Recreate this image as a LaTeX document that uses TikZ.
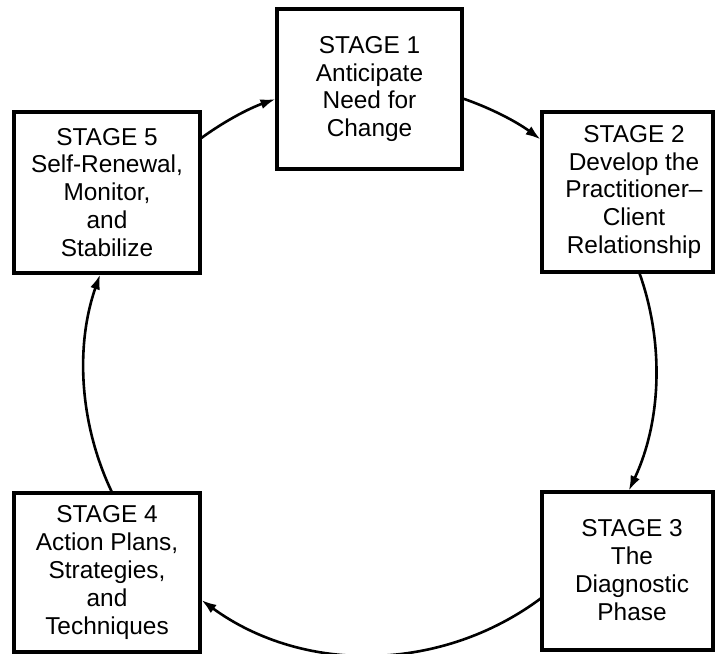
\documentclass[tikz,border=0pt]{standalone}
\usepackage{fontspec}
\setmainfont{Liberation Sans}
\usetikzlibrary{arrows.meta}
\tikzset{
  stagebox/.style={draw, line width=3.2bp, minimum width=#1, minimum height=160bp, inner sep=0pt,
    align=center, font=\fontsize{24.5}{28}\selectfont},
  stagebox/.default=186bp,
  stagetext/.style={align=center, inner sep=0pt, font=\fontsize{24.5}{28}\selectfont},
  conn/.style={line width=2.6bp, -{Latex[length=15bp,width=10bp]}}
}
\begin{document}
\begin{tikzpicture}[x=1bp,y=1bp]
\useasboundingbox (0,0) rectangle (715,654);
% boxes
\node[stagebox=185bp] (s1) at (369.5,565) {STAGE 1\\Anticipate\\Need for\\Change};
\node[stagebox=171bp] (s2) at (627.5,462) {};
\node[stagetext] (s2t) at (634,462) {STAGE 2\\Develop the\\Practitioner–\\Client\\Relationship};
\node[stagebox=171bp, minimum height=158bp] (s3) at (627.5,83) {};
\node[stagetext] (s3t) at (632,84) {STAGE 3\\The\\Diagnostic\\Phase};
\node[stagebox, minimum height=159bp] (s4) at (107,81.5) {STAGE 4\\Action Plans,\\Strategies,\\and\\Techniques};
\node[stagebox, minimum height=161bp] (s5) at (107,461.5) {STAGE 5\\Self-Renewal,\\Monitor,\\and\\Stabilize};
% circle of the cycle
\coordinate (c) at (370,285);
\coordinate (p51) at ([shift={(126.5:286)}]c);
\coordinate (p12) at ([shift={(71.2:286)}]c);
\coordinate (p23) at ([shift={(19.8:286)}]c);
\coordinate (p34) at ([shift={(-53:286)}]c);
\coordinate (p45) at ([shift={(205.7:286)}]c);
\draw[conn] (p51) arc[start angle=126.5, end angle=109.3, radius=286];
\draw[conn] (p12) arc[start angle=71.2, end angle=53.4, radius=286];
\draw[conn] (p23) arc[start angle=19.8, end angle=-25.2, radius=286];
\draw[conn] (p34) arc[start angle=-53, end angle=-126.1, radius=286];
\draw[conn] (p45) arc[start angle=205.7, end angle=160.7, radius=286];
\end{tikzpicture}
\end{document}
